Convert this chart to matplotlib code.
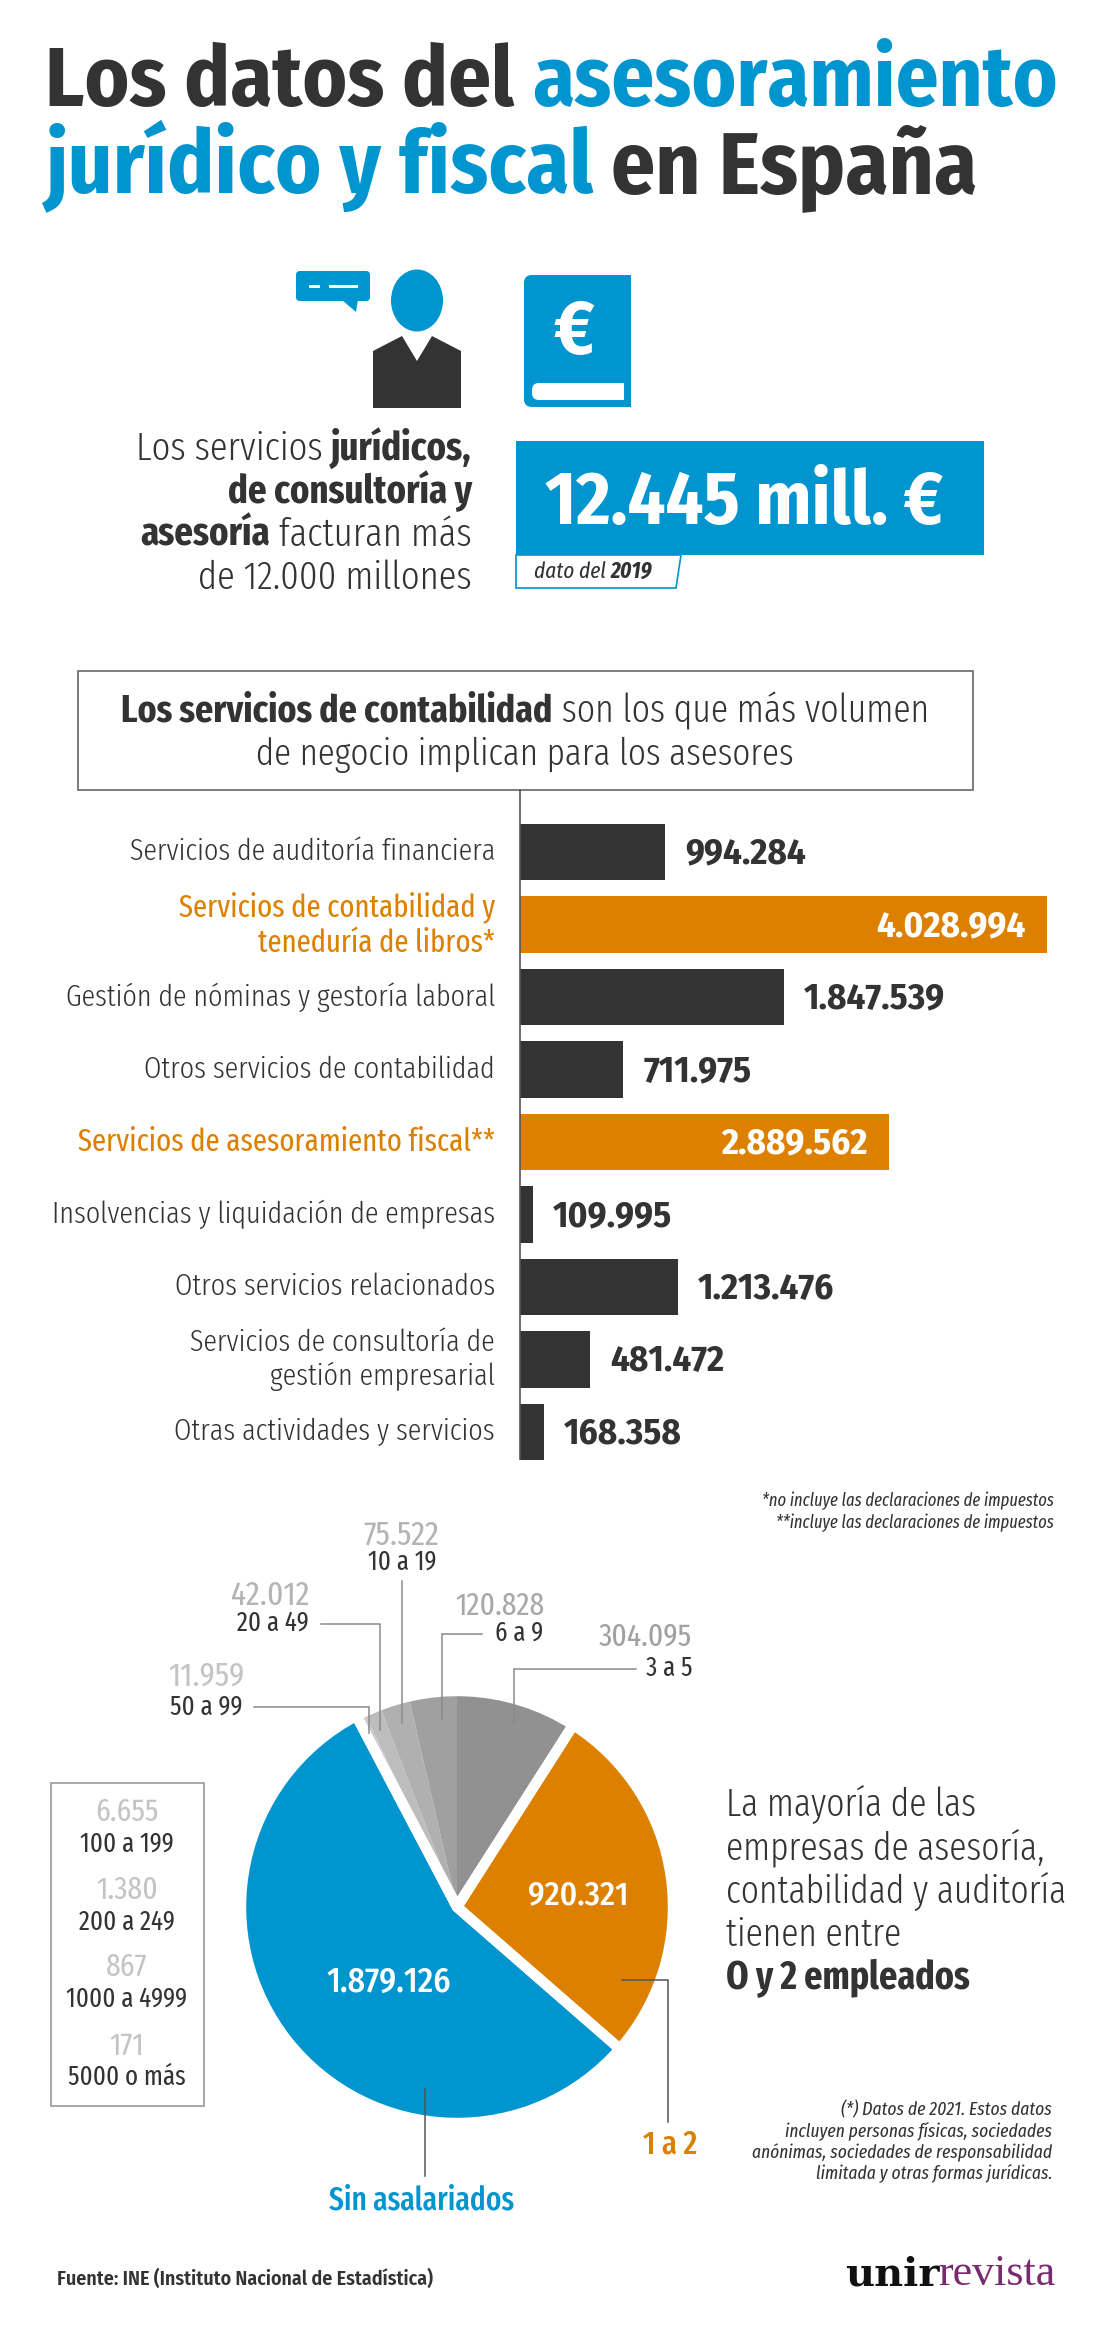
import matplotlib
matplotlib.use("Agg")
import matplotlib.pyplot as plt
from matplotlib.patches import Ellipse, Polygon, Rectangle, FancyBboxPatch

BLUE = "#0095CE"
ORANGE = "#DD8000"
DARK = "#333333"
LIGHT_GREY = "#B4B4B4"
LEADER = "#8A8A8A"
COND = ["Fira Sans Condensed", "Barlow Condensed", "DejaVu Sans"]
XCOND = ["Fira Sans Extra Condensed", "Barlow Condensed", "DejaVu Sans"]
SERIF = ["Liberation Serif", "DejaVu Serif"]
W, H = 1100, 2326

# bar chart, labels as printed
service_names = ["Servicios de auditoría financiera", "Servicios de contabilidad y\nteneduría de libros*",
                 "Gestión de nóminas y gestoría laboral", "Otros servicios de contabilidad",
                 "Servicios de asesoramiento fiscal**", "Insolvencias y liquidación de empresas",
                 "Otros servicios relacionados", "Servicios de consultoría de\ngestión empresarial",
                 "Otras actividades y servicios"]
service_labels = ["994.284", "4.028.994", "1.847.539", "711.975", "2.889.562", "109.995", "1.213.476", "481.472", "168.358"]
# the bars in the picture are not quite to scale, so lengths are read off the bars themselves
service_lengths = [1108000, 4028994, 2015000, 790000, 2821000, 102000, 1208000, 537000, 183000]
service_highlight = [False, True, False, False, True, False, False, False, False]

# pie, clockwise from 12 o'clock
size_names = ["3 a 5", "1 a 2", "Sin asalariados", "5000 o más", "1000 a 4999", "200 a 249", "100 a 199",
              "50 a 99", "20 a 49", "10 a 19", "6 a 9"]
size_values = [304095, 920321, 1879126, 171, 867, 1380, 6655, 11959, 42012, 75522, 120828]
size_colors = ["#919191", ORANGE, BLUE, "#E2E2E2", "#DEDEDE", "#DADADA", "#D6D6D6", "#CCCCCC", "#BDBDBD", "#B0B0B0", "#A0A0A0"]


def axes_px(left, top, right, bottom, **kw):
    return fig.add_axes([left / W, 1 - bottom / H, (right - left) / W, (bottom - top) / H], **kw)


def txt(x, y, s, px, color=DARK, ha="left", weight=400, style="normal", family=XCOND, va="baseline", **kw):
    return ov.text(x, y, s, fontsize=px * 0.72, color=color, ha=ha, va=va, fontweight=weight,
                   fontstyle=style, family=family, **kw)


def runs(x, y, parts, px, ha="left", **kw):
    # parts are (string, colour, weight, family); placed one after the other
    renderer = fig.canvas.get_renderer()
    placed = []
    cursor = x
    for s, color, weight, family in parts:
        t = txt(cursor, y, s.replace(" ", "\u00a0"), px, color=color, weight=weight, family=family, **kw)
        placed.append(t)
        cursor += t.get_window_extent(renderer).width
    shift = {"left": 0, "center": (cursor - x) / 2, "right": cursor - x}[ha]
    for t in placed:
        t.set_x(t.get_position()[0] - shift)


fig = plt.figure(figsize=(W / 100, H / 100), dpi=100, facecolor="white")

# overlay in pixels for all the layout pieces
ov = axes_px(0, 0, W, H, zorder=5)
ov.set_xlim(0, W)
ov.set_ylim(H, 0)
ov.axis("off")
ov.patch.set_alpha(0)

# title
runs(45, 106, [("Los datos del ", DARK, 700, COND), ("asesoramiento", BLUE, 700, COND)], 84.5)
runs(45, 193, [("jurídico y fiscal ", BLUE, 700, COND), ("en España", DARK, 700, COND)], 87)

# icons
ov.add_patch(Ellipse((417, 300.5), 52, 62, color=BLUE, lw=0))
ov.add_patch(Polygon([(373, 351), (402, 336), (417, 361), (432, 336), (461, 351), (461, 408), (373, 408)], color=DARK, lw=0))
ov.add_patch(FancyBboxPatch((299, 274), 68, 24, boxstyle="round,pad=3,rounding_size=4", color=BLUE, lw=0))
ov.add_patch(Polygon([(342, 300), (356, 312), (358, 300)], color=BLUE, lw=0))
ov.add_patch(Rectangle((309, 284.5), 11, 3, color="white", lw=0))
ov.add_patch(Rectangle((329, 284.5), 29, 3, color="white", lw=0))
ov.add_patch(FancyBboxPatch((532, 283), 91, 116, boxstyle="round,pad=8,rounding_size=8", color=BLUE, lw=0))
ov.add_patch(Rectangle((600, 275), 31, 20, color=BLUE, lw=0))
ov.add_patch(Rectangle((600, 385), 31, 22, color=BLUE, lw=0))
ov.add_patch(FancyBboxPatch((532, 383), 92, 17, boxstyle="round,pad=0,rounding_size=7", color="white", lw=0))
ov.add_patch(Rectangle((600, 383), 24, 17, color="white", lw=0))
txt(574, 354, "€", 76, color="white", ha="center", weight=700, family=COND)

# headline figure
runs(472, 460, [("Los servicios ", DARK, 300, XCOND), ("jurídicos,", DARK, 700, XCOND)], 39.8, ha="right")
runs(472, 503, [("de consultoría y", DARK, 700, XCOND)], 39.8, ha="right")
runs(472, 546, [("asesoría", DARK, 700, XCOND), (" facturan más", DARK, 300, XCOND)], 39.8, ha="right")
runs(472, 589, [("de 12.000 millones", DARK, 300, XCOND)], 39.8, ha="right")
ov.add_patch(Rectangle((516, 441), 468, 114, color=BLUE, lw=0))
txt(744, 524, "12.445 mill. €", 74, color="white", ha="center", weight=700, family=COND)
ov.add_patch(Polygon([(516, 555), (681, 555), (676, 588), (516, 588)], closed=True, fill=False, edgecolor=BLUE, lw=1.2))
runs(534, 578, [("dato del ", DARK, 400, XCOND), ("2019", DARK, 700, XCOND)], 23, style="italic")

# box over the bars
ov.add_patch(Rectangle((77.5, 671), 895, 119, fill=False, edgecolor="#666666", lw=1.2))
runs(525, 722, [("Los servicios de contabilidad", DARK, 700, XCOND), (" son los que más volumen", DARK, 300, XCOND)], 38.8, ha="center")
runs(525, 765, [("de negocio implican para los asesores", DARK, 300, XCOND)], 38, ha="center")

# bars
band = 72.5
bar_ax = axes_px(520, 852 - band / 2, W, 1432 + band / 2)
bar_ax.axis("off")
bar_ax.patch.set_alpha(0)
bar_ax.set_xlim(0, (W - 520) * 4028994 / 527)
bar_ax.set_ylim(len(service_names) - 0.5, -0.5)
bar_colors = [ORANGE if h else DARK for h in service_highlight]
bars = bar_ax.barh(range(len(service_lengths)), service_lengths, height=0.786, color=bar_colors)
for i, (bar, name, label, hi) in enumerate(zip(bars, service_names, service_labels, service_highlight)):
    end = bar.get_width()
    if hi:
        bar_ax.annotate(label, (end, i), xytext=(-21 * 0.72, -1.5), textcoords="offset points", ha="right", va="center",
                        color="white", fontsize=26.5, fontweight=700, family=COND)
    else:
        bar_ax.annotate(label, (end, i), xytext=(20 * 0.72, -1.5), textcoords="offset points", ha="left", va="center",
                        color=DARK, fontsize=26.5, fontweight=700, family=COND)
    bar_ax.annotate(name, (0, i), xytext=(-25 * 0.72, 0), textcoords="offset points", ha="right", va="center",
                    color=ORANGE if hi else DARK, fontsize=22.5 if hi else 22, fontweight=400 if hi else 300, family=XCOND,
                    linespacing=1.2, annotation_clip=False)
ov.plot([520, 520], [790, 1459], color="#555555", lw=1.2)

# footnotes
txt(1054, 1506, "*no incluye las declaraciones de impuestos", 18, ha="right", style="italic")
txt(1054, 1528, "**incluye las declaraciones de impuestos", 18, ha="right", style="italic")

# pie
total = sum(size_values)
pie_ax = axes_px(457 - 216, 1907 - 216, 457 + 216, 1907 + 216)
pie_ax.pie(size_values, colors=size_colors, startangle=90, counterclock=False, radius=1, wedgeprops=dict(linewidth=0))
# white gaps around orange, blue and the whole grey run
gap_groups = [size_values[1], size_values[2], sum(size_values[3:]) + size_values[0]]
pie_ax.pie(gap_groups, colors=["none"] * 3, startangle=90 - 360 * size_values[0] / total, counterclock=False, radius=1,
           wedgeprops=dict(edgecolor="white", linewidth=7.5, fill=False, joinstyle="round"))
pie_ax.set_xlim(-1, 1)
pie_ax.set_ylim(-1, 1)

txt(578, 1904, "920.321", 33, color="white", ha="center", weight=500, family=COND)
txt(389, 1992, "1.879.126", 34, color="white", ha="center", weight=500, family=COND)

# callouts around the pie
for xs, ys, c in [([636, 514, 514], [1669, 1669, 1723], LEADER),
                  ([482, 442, 442], [1633.5, 1633.5, 1719], LEADER),
                  ([402, 402], [1581, 1723], LEADER),
                  ([321, 380, 380], [1624, 1624, 1730], LEADER),
                  ([254, 369, 369], [1707, 1707, 1733], LEADER),
                  ([622, 668, 668], [1980, 1980, 2122], "#555555"),
                  ([425, 425], [2089, 2176], "#555555")]:
    ov.plot(xs, ys, color=c, lw=1.1, solid_joinstyle="miter")

txt(692, 1646, "304.095", 32, color="#A0A0A0", ha="right")
txt(692, 1676, "3 a 5", 27, ha="right")
txt(545, 1615, "120.828", 32, color="#A8A8A8", ha="right")
txt(543, 1641, "6 a 9", 27, ha="right")
txt(401, 1545, "75.522", 34, color=LIGHT_GREY, ha="center")
txt(402, 1570, "10 a 19", 27, ha="center")
txt(309, 1605, "42.012", 34, color=LIGHT_GREY, ha="right")
txt(309, 1631, "20 a 49", 27, ha="right")
txt(245, 1686, "11.959", 34, color="#C4C4C4", ha="right")
txt(243, 1715, "50 a 99", 27, ha="right")
txt(697, 2154, "1 a 2", 33, color=ORANGE, ha="right", weight=500)
txt(422, 2210, "Sin asalariados", 32, color=BLUE, ha="center", weight=500)

# small slices box
ov.add_patch(Rectangle((50.5, 1783), 153.5, 323, fill=False, edgecolor="#999999", lw=1.2))
for y1, y2, v, n in [(1821, 1852, "6.655", "100 a 199"), (1899, 1930, "1.380", "200 a 249"),
                     (1976, 2007, "867", "1000 a 4999"), (2055, 2085, "171", "5000 o más")]:
    txt(127, y1, v, 32, color="#C4C4C4", ha="center")
    txt(127, y2, n, 27, ha="center")

# side text
for y, s in [(1816, "La mayoría de las"), (1859, "empresas de asesoría,"), (1903, "contabilidad y auditoría"), (1946, "tienen entre")]:
    txt(726, y, s, 38.5, weight=300)
txt(726, 1989, "O y 2 empleados", 39, weight=700)

for y, s in [(2115, "(*) Datos de 2021. Estos datos"), (2137, "incluyen personas físicas, sociedades"),
             (2158, "anónimas, sociedades de responsabilidad"), (2179, "limitada y otras formas jurídicas.")]:
    txt(1052, y, s, 19, ha="right", style="italic")

# source and logo
txt(57, 2285, "Fuente: INE (Instituto Nacional de Estadística)", 20, weight=600, family=COND)
txt(845, 2285, "unir", 40, color="#111111", weight="bold", family=["DejaVu Serif"])
txt(938, 2285, "revista", 44, color="#7A2A6E", family=SERIF)

fig.savefig("out.png", dpi=100, facecolor="white")
